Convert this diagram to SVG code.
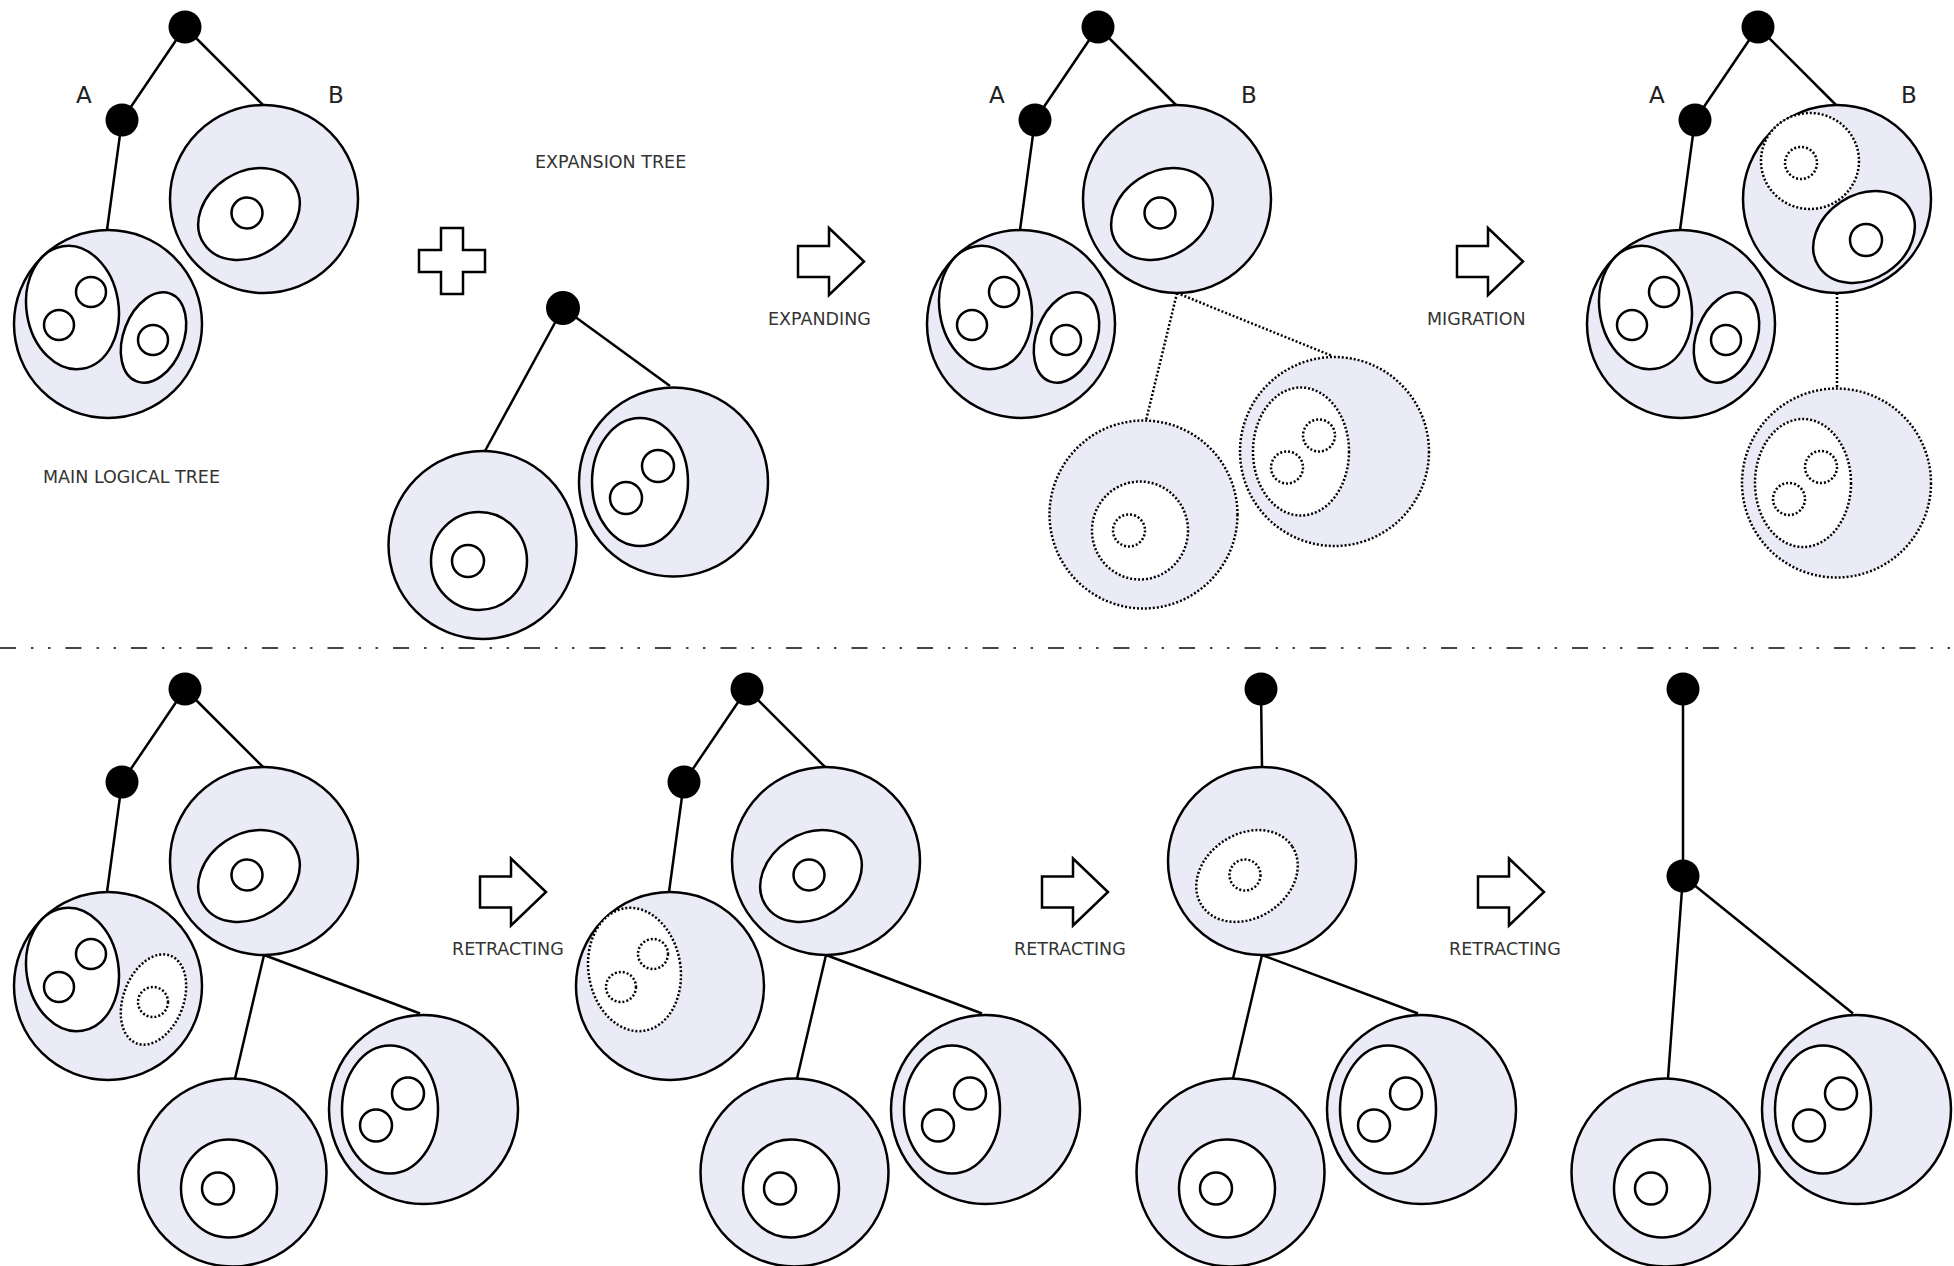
<svg xmlns="http://www.w3.org/2000/svg" width="1954" height="1266" viewBox="0 0 1954 1266">
<style>
.bg{fill:#fff}
.cell{fill:#ebebf8;stroke:#000;stroke-width:2.5}
.in{fill:#fff;stroke:#000;stroke-width:2.5}
.dt{stroke-dasharray:2 2}
.edge{stroke:#000;stroke-width:2.5;fill:none}
.knot{fill:#000}
.lbl{font-family:"DejaVu Sans",Verdana,sans-serif;font-size:17.5px;fill:#333}
.ab{font-family:"DejaVu Sans",Verdana,sans-serif;font-size:23px;fill:#222}
.arrow{fill:#fff;stroke:#000;stroke-width:2.5;stroke-linejoin:miter}
.sep{stroke:#444;stroke-width:2;stroke-dasharray:16 15 2.5 14.5 2.5 15}
</style>
<defs>
<polygon id="arr" class="arrow" points="0,-15.5 31,-15.5 31,-33.5 66,0 31,33.5 31,15.5 0,15.5"/>
</defs>
<rect class="bg" x="0" y="0" width="1954" height="1266"/>

<!-- connectors -->
<g id="connectors">
  <!-- panel 1 -->
  <line class="edge" x1="185" y1="27" x2="122" y2="120"/>
  <line class="edge" x1="185" y1="27" x2="263" y2="105"/>
  <line class="edge" x1="122" y1="120" x2="107" y2="230"/>
  <!-- expansion tree -->
  <line class="edge" x1="563" y1="308" x2="485" y2="451"/>
  <line class="edge" x1="563" y1="308" x2="670" y2="386"/>
  <!-- panel 3 -->
  <line class="edge" x1="1098" y1="27" x2="1035" y2="120"/>
  <line class="edge" x1="1098" y1="27" x2="1176" y2="105"/>
  <line class="edge" x1="1035" y1="120" x2="1020" y2="230"/>
  <line class="edge dt" x1="1177" y1="293" x2="1146" y2="420.5"/>
  <line class="edge dt" x1="1177" y1="293" x2="1331" y2="355.5"/>
  <!-- panel 4 -->
  <line class="edge" x1="1758" y1="27" x2="1695" y2="120"/>
  <line class="edge" x1="1758" y1="27" x2="1836" y2="105"/>
  <line class="edge" x1="1695" y1="120" x2="1680" y2="230"/>
  <line class="edge dt" x1="1837" y1="293" x2="1837" y2="388.5"/>
  <!-- panel 5 -->
  <line class="edge" x1="185" y1="689" x2="122" y2="782"/>
  <line class="edge" x1="185" y1="689" x2="263" y2="767"/>
  <line class="edge" x1="122" y1="782" x2="107" y2="892"/>
  <line class="edge" x1="264" y1="955" x2="235" y2="1078.5"/>
  <line class="edge" x1="264" y1="955" x2="420" y2="1013.5"/>
  <!-- panel 6 -->
  <line class="edge" x1="747" y1="689" x2="684" y2="782"/>
  <line class="edge" x1="747" y1="689" x2="825" y2="767"/>
  <line class="edge" x1="684" y1="782" x2="669" y2="892"/>
  <line class="edge" x1="826" y1="955" x2="797" y2="1078.5"/>
  <line class="edge" x1="826" y1="955" x2="982" y2="1013.5"/>
  <!-- panel 7 -->
  <line class="edge" x1="1261" y1="689" x2="1262" y2="767"/>
  <line class="edge" x1="1262" y1="955" x2="1233" y2="1078.5"/>
  <line class="edge" x1="1262" y1="955" x2="1418" y2="1013.5"/>
  <!-- panel 8 -->
  <line class="edge" x1="1683" y1="689" x2="1683" y2="876"/>
  <line class="edge" x1="1683" y1="876" x2="1668" y2="1078.5"/>
  <line class="edge" x1="1683" y1="876" x2="1853" y2="1013.5"/>
</g>

<!-- ===== Panel 1: main logical tree ===== -->
<g id="p1-B">
  <circle class="cell" cx="264" cy="199" r="94"/>
  <ellipse class="in" cx="249" cy="214" rx="54" ry="42" transform="rotate(-33 249 214)"/>
  <circle class="in" cx="247" cy="213" r="15.5"/>
</g>
<g id="p1-A">
  <circle class="cell" cx="108" cy="324" r="94"/>
  <ellipse class="in" cx="72.5" cy="307.5" rx="46" ry="62" transform="rotate(-9 72.5 307.5)"/>
  <circle class="in" cx="91" cy="292" r="15"/>
  <circle class="in" cx="59" cy="325" r="15"/>
  <ellipse class="in" cx="153.5" cy="337.5" rx="30" ry="47" transform="rotate(21 153.5 337.5)"/>
  <circle class="in" cx="153" cy="340" r="15"/>
</g>
<g id="p1-root"><circle class="knot" cx="185" cy="27" r="16.5"/></g>
<g id="p1-Adot"><circle class="knot" cx="122" cy="120" r="16.5"/></g>
<text class="ab" x="76" y="103">A</text>
<text class="ab" x="328" y="103">B</text>
<text class="lbl" x="43" y="483">MAIN LOGICAL TREE</text>

<!-- plus -->
<g id="plus">
  <polygon class="arrow" points="441,228 463,228 463,250 485,250 485,272 463,272 463,294 441,294 441,272 419,272 419,250 441,250"/>
</g>

<!-- ===== Expansion tree ===== -->
<text class="lbl" x="535" y="168">EXPANSION TREE</text>
<g id="exp-left">
  <circle class="cell" cx="482.5" cy="545" r="94"/>
  <ellipse class="in" cx="479" cy="561" rx="48" ry="49"/>
  <circle class="in" cx="468" cy="561" r="16"/>
</g>
<g id="exp-right">
  <circle class="cell" cx="673.5" cy="482" r="94.5"/>
  <ellipse class="in" cx="640" cy="482" rx="48" ry="64"/>
  <circle class="in" cx="658" cy="466" r="16"/>
  <circle class="in" cx="626" cy="498" r="16"/>
</g>
<g id="exp-root"><circle class="knot" cx="563" cy="308" r="17"/></g>

<!-- arrow EXPANDING -->
<g id="arrow-expanding">
  <use href="#arr" x="798" y="261.5"/>
  <text class="lbl" x="768" y="325">EXPANDING</text>
</g>

<!-- ===== Panel 3 ===== -->
<g id="p3-B">
  <circle class="cell" cx="1177" cy="199" r="94"/>
  <ellipse class="in" cx="1162" cy="214" rx="54" ry="42" transform="rotate(-33 1162 214)"/>
  <circle class="in" cx="1160" cy="213" r="15.5"/>
</g>
<g id="p3-A">
  <circle class="cell" cx="1021" cy="324" r="94"/>
  <ellipse class="in" cx="985.5" cy="307.5" rx="46" ry="62" transform="rotate(-9 985.5 307.5)"/>
  <circle class="in" cx="1004" cy="292" r="15"/>
  <circle class="in" cx="972" cy="325" r="15"/>
  <ellipse class="in" cx="1066.5" cy="337.5" rx="30" ry="47" transform="rotate(21 1066.5 337.5)"/>
  <circle class="in" cx="1066" cy="340" r="15"/>
</g>
<g id="p3-new-left" transform="translate(661 -30.5)">
  <circle class="cell dt" cx="482.5" cy="545" r="94"/>
  <ellipse class="in dt" cx="479" cy="561" rx="48" ry="49"/>
  <circle class="in dt" cx="468" cy="561" r="16"/>
</g>
<g id="p3-new-right" transform="translate(661 -30.5)">
  <circle class="cell dt" cx="673.5" cy="482" r="94.5"/>
  <ellipse class="in dt" cx="640" cy="482" rx="48" ry="64"/>
  <circle class="in dt" cx="658" cy="466" r="16"/>
  <circle class="in dt" cx="626" cy="498" r="16"/>
</g>
<g id="p3-root"><circle class="knot" cx="1098" cy="27" r="16.5"/></g>
<g id="p3-Adot"><circle class="knot" cx="1035" cy="120" r="16.5"/></g>
<text class="ab" x="989" y="103">A</text>
<text class="ab" x="1241" y="103">B</text>

<!-- arrow MIGRATION -->
<g id="arrow-migration">
  <use href="#arr" x="1457" y="261.5"/>
  <text class="lbl" x="1427" y="325">MIGRATION</text>
</g>

<!-- ===== Panel 4 ===== -->
<g id="p4-B">
  <circle class="cell" cx="1837" cy="199" r="94"/>
  <ellipse class="in dt" cx="1810" cy="161" rx="49" ry="48"/>
  <circle class="in dt" cx="1801" cy="163" r="16"/>
  <ellipse class="in" cx="1864" cy="237" rx="54" ry="42" transform="rotate(-33 1864 237)"/>
  <circle class="in" cx="1866" cy="240" r="16"/>
</g>
<g id="p4-A">
  <circle class="cell" cx="1681" cy="324" r="94"/>
  <ellipse class="in" cx="1645.5" cy="307.5" rx="46" ry="62" transform="rotate(-9 1645.5 307.5)"/>
  <circle class="in" cx="1664" cy="292" r="15"/>
  <circle class="in" cx="1632" cy="325" r="15"/>
  <ellipse class="in" cx="1726.5" cy="337.5" rx="30" ry="47" transform="rotate(21 1726.5 337.5)"/>
  <circle class="in" cx="1726" cy="340" r="15"/>
</g>
<g id="p4-new" transform="translate(1163 1)">
  <circle class="cell dt" cx="673.5" cy="482" r="94.5"/>
  <ellipse class="in dt" cx="640" cy="482" rx="48" ry="64"/>
  <circle class="in dt" cx="658" cy="466" r="16"/>
  <circle class="in dt" cx="626" cy="498" r="16"/>
</g>
<g id="p4-root"><circle class="knot" cx="1758" cy="27" r="16.5"/></g>
<g id="p4-Adot"><circle class="knot" cx="1695" cy="120" r="16.5"/></g>
<text class="ab" x="1649" y="103">A</text>
<text class="ab" x="1901" y="103">B</text>

<!-- separator -->
<line class="sep" x1="0" y1="648" x2="1954" y2="648"/>

<!-- ===== Panel 5 ===== -->
<g id="p5-B">
  <circle class="cell" cx="264" cy="861" r="94"/>
  <ellipse class="in" cx="249" cy="876" rx="54" ry="42" transform="rotate(-33 249 876)"/>
  <circle class="in" cx="247" cy="875" r="15.5"/>
</g>
<g id="p5-A">
  <circle class="cell" cx="108" cy="986" r="94"/>
  <ellipse class="in" cx="72.5" cy="969.5" rx="46" ry="62" transform="rotate(-9 72.5 969.5)"/>
  <circle class="in" cx="91" cy="954" r="15"/>
  <circle class="in" cx="59" cy="987" r="15"/>
  <ellipse class="in dt" cx="153.5" cy="999.5" rx="30" ry="47" transform="rotate(21 153.5 999.5)"/>
  <circle class="in dt" cx="153" cy="1002" r="15"/>
</g>
<g id="p5-left" transform="translate(-250 627.5)">
  <circle class="cell" cx="482.5" cy="545" r="94"/>
  <ellipse class="in" cx="479" cy="561" rx="48" ry="49"/>
  <circle class="in" cx="468" cy="561" r="16"/>
</g>
<g id="p5-right" transform="translate(-250 627.5)">
  <circle class="cell" cx="673.5" cy="482" r="94.5"/>
  <ellipse class="in" cx="640" cy="482" rx="48" ry="64"/>
  <circle class="in" cx="658" cy="466" r="16"/>
  <circle class="in" cx="626" cy="498" r="16"/>
</g>
<g id="p5-root"><circle class="knot" cx="185" cy="689" r="16.5"/></g>
<g id="p5-Adot"><circle class="knot" cx="122" cy="782" r="16.5"/></g>

<g id="arrow-retract-1">
  <use href="#arr" x="480" y="892"/>
  <text class="lbl" x="452" y="955">RETRACTING</text>
</g>

<!-- ===== Panel 6 ===== -->
<g id="p6-B">
  <circle class="cell" cx="826" cy="861" r="94"/>
  <ellipse class="in" cx="811" cy="876" rx="54" ry="42" transform="rotate(-33 811 876)"/>
  <circle class="in" cx="809" cy="875" r="15.5"/>
</g>
<g id="p6-A">
  <circle class="cell" cx="670" cy="986" r="94"/>
  <ellipse class="in dt" cx="634.5" cy="969.5" rx="46" ry="62" transform="rotate(-9 634.5 969.5)"/>
  <circle class="in dt" cx="653" cy="954" r="15"/>
  <circle class="in dt" cx="621" cy="987" r="15"/>
</g>
<g id="p6-left" transform="translate(312 627.5)">
  <circle class="cell" cx="482.5" cy="545" r="94"/>
  <ellipse class="in" cx="479" cy="561" rx="48" ry="49"/>
  <circle class="in" cx="468" cy="561" r="16"/>
</g>
<g id="p6-right" transform="translate(312 627.5)">
  <circle class="cell" cx="673.5" cy="482" r="94.5"/>
  <ellipse class="in" cx="640" cy="482" rx="48" ry="64"/>
  <circle class="in" cx="658" cy="466" r="16"/>
  <circle class="in" cx="626" cy="498" r="16"/>
</g>
<g id="p6-root"><circle class="knot" cx="747" cy="689" r="16.5"/></g>
<g id="p6-Adot"><circle class="knot" cx="684" cy="782" r="16.5"/></g>

<g id="arrow-retract-2">
  <use href="#arr" x="1042" y="892"/>
  <text class="lbl" x="1014" y="955">RETRACTING</text>
</g>

<!-- ===== Panel 7 ===== -->
<g id="p7-B">
  <circle class="cell" cx="1262" cy="861" r="94"/>
  <ellipse class="in dt" cx="1247" cy="876" rx="54" ry="42" transform="rotate(-33 1247 876)"/>
  <circle class="in dt" cx="1245" cy="875" r="15.5"/>
</g>
<g id="p7-left" transform="translate(748 627.5)">
  <circle class="cell" cx="482.5" cy="545" r="94"/>
  <ellipse class="in" cx="479" cy="561" rx="48" ry="49"/>
  <circle class="in" cx="468" cy="561" r="16"/>
</g>
<g id="p7-right" transform="translate(748 627.5)">
  <circle class="cell" cx="673.5" cy="482" r="94.5"/>
  <ellipse class="in" cx="640" cy="482" rx="48" ry="64"/>
  <circle class="in" cx="658" cy="466" r="16"/>
  <circle class="in" cx="626" cy="498" r="16"/>
</g>
<g id="p7-root"><circle class="knot" cx="1261" cy="689" r="16.5"/></g>

<g id="arrow-retract-3">
  <use href="#arr" x="1478" y="892"/>
  <text class="lbl" x="1449" y="955">RETRACTING</text>
</g>

<!-- ===== Panel 8 ===== -->
<g id="p8-left" transform="translate(1183 627.5)">
  <circle class="cell" cx="482.5" cy="545" r="94"/>
  <ellipse class="in" cx="479" cy="561" rx="48" ry="49"/>
  <circle class="in" cx="468" cy="561" r="16"/>
</g>
<g id="p8-right" transform="translate(1183 627.5)">
  <circle class="cell" cx="673.5" cy="482" r="94.5"/>
  <ellipse class="in" cx="640" cy="482" rx="48" ry="64"/>
  <circle class="in" cx="658" cy="466" r="16"/>
  <circle class="in" cx="626" cy="498" r="16"/>
</g>
<g id="p8-root"><circle class="knot" cx="1683" cy="689" r="16.5"/></g>
<g id="p8-mid"><circle class="knot" cx="1683" cy="876" r="16.5"/></g>
</svg>
